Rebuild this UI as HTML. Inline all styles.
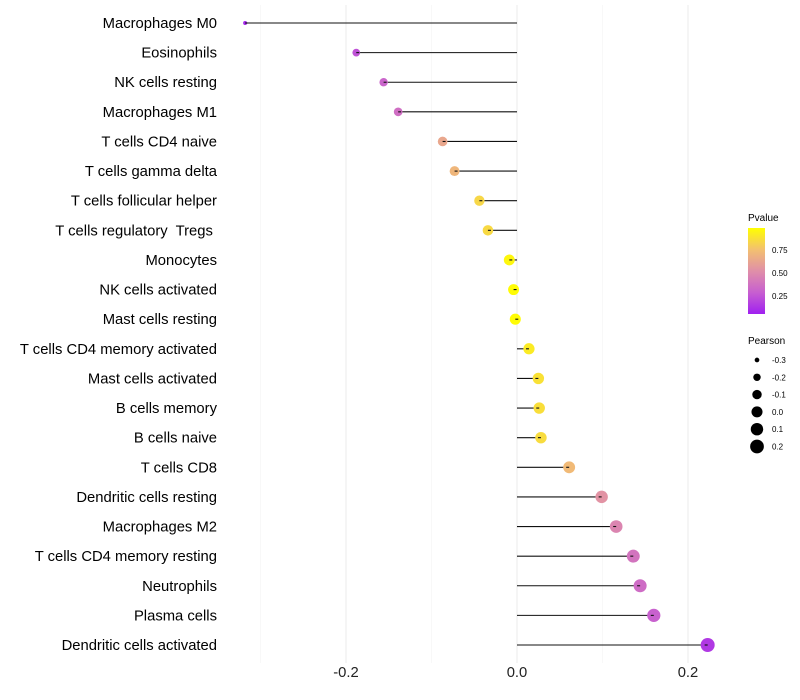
<!DOCTYPE html>
<html><head><meta charset="utf-8"><style>body{margin:0;background:#fff}svg{display:block;font-family:"Liberation Sans",sans-serif}text{white-space:pre}</style></head>
<body>
<svg id="chart" width="800" height="700">
<defs><linearGradient id="pg" x1="0" y1="1" x2="0" y2="0">
<stop offset="0" stop-color="#a020f0"/><stop offset="0.25" stop-color="#c75fd0"/><stop offset="0.5" stop-color="#e08fa8"/><stop offset="0.75" stop-color="#f3c070"/><stop offset="1" stop-color="#ffff00"/></linearGradient></defs>
<g id="grid"></g><g id="marks"></g><g id="ylab"></g><g id="xlab"></g>
<g>
<text x="748" y="221" font-size="10">Pvalue</text>
<rect x="748" y="228" width="17" height="86" fill="url(#pg)"/>
<text x="772" y="253" font-size="8">0.75</text>
<text x="772" y="276" font-size="8">0.50</text>
<text x="772" y="299" font-size="8">0.25</text>
</g>
<g id="sizeleg">
<text x="748" y="344" font-size="10">Pearson</text>
</g>
</svg>
<script>
const categories=["Macrophages M0","Eosinophils","NK cells resting","Macrophages M1","T cells CD4 naive","T cells gamma delta","T cells follicular helper","T cells regulatory  Tregs ","Monocytes","NK cells activated","Mast cells resting","T cells CD4 memory activated","Mast cells activated","B cells memory","B cells naive","T cells CD8","Dendritic cells resting","Macrophages M2","T cells CD4 memory resting","Neutrophils","Plasma cells","Dendritic cells activated"];
const pearson=[-0.318,-0.188,-0.156,-0.139,-0.087,-0.073,-0.044,-0.034,-0.009,-0.004,-0.002,0.014,0.025,0.026,0.028,0.061,0.099,0.116,0.136,0.144,0.160,0.223];
const pvalue=[0.03,0.2,0.28,0.33,0.62,0.7,0.84,0.85,0.97,0.99,0.99,0.92,0.88,0.87,0.86,0.72,0.52,0.45,0.36,0.32,0.26,0.1];
const xTicks=[-0.2,0.0,0.2];
const xMinor=[-0.3,-0.1,0.1];
const sizeLegend=[-0.3,-0.2,-0.1,0.0,0.1,0.2];
const NS="http://www.w3.org/2000/svg";
const x=v=>517+v*855;
const y=i=>23+i*(622/21);
const r=v=>Math.sqrt(Math.max(2,4+(v+0.318)/0.541*45));
const stops=[[0,[160,32,240]],[0.25,[199,95,208]],[0.5,[224,143,168]],[0.75,[243,192,112]],[1,[255,255,0]]];
function col(p){for(let k=0;k<stops.length-1;k++){const a=stops[k],b=stops[k+1];if(p<=b[0]){const t=(p-a[0])/(b[0]-a[0]);return `rgb(${a[1].map((c,j)=>Math.round(c+(b[1][j]-c)*t)).join(',')})`;}}return 'rgb(255,255,0)';}
function mk(tag,at,parent){const e=document.createElementNS(NS,tag);for(const k in at)e.setAttribute(k,at[k]);parent.appendChild(e);return e;}
const grid=document.getElementById('grid'),marks=document.getElementById('marks'),yl=document.getElementById('ylab'),xl=document.getElementById('xlab'),sl=document.getElementById('sizeleg');
xMinor.forEach(v=>{const l=mk('line',{x1:x(v),x2:x(v),y1:5,y2:663,stroke:'#f3f3f3','stroke-width':0.6},grid);

});
xTicks.forEach(v=>{const l=mk('line',{x1:x(v),x2:x(v),y1:5,y2:663,stroke:'#ebebeb','stroke-width':1},grid);


const t=mk('text',{x:x(v),y:677,'font-size':14.8,'text-anchor':'middle',fill:'#222'},xl);t.textContent=v.toFixed(1);

});
categories.forEach((c,i)=>{
const t=mk('text',{x:217,y:y(i)+5,'font-size':14.8,'text-anchor':'end',fill:'#000'},yl);t.textContent=c;


const l=mk('line',{x1:x(0),x2:x(pearson[i]),y1:y(i),y2:y(i),stroke:'#111','stroke-width':1.1},marks);


const d=mk('circle',{cx:x(pearson[i]),cy:y(i),r:r(pearson[i]),fill:col(pvalue[i])},marks);


const l2=mk('line',{x1:x(pearson[i]),x2:x(pearson[i])+(pearson[i]<0?3:-3),y1:y(i),y2:y(i),stroke:'#111','stroke-width':1.1},marks);


});
sizeLegend.forEach((v,k)=>{const cy=360+k*17.3;
const d=mk('circle',{cx:757,cy:cy,r:r(v),fill:'#000'},sl);


const t=mk('text',{x:772,y:cy+3,'font-size':8},sl);t.textContent=v.toFixed(1);

});
</script>
</body></html>
